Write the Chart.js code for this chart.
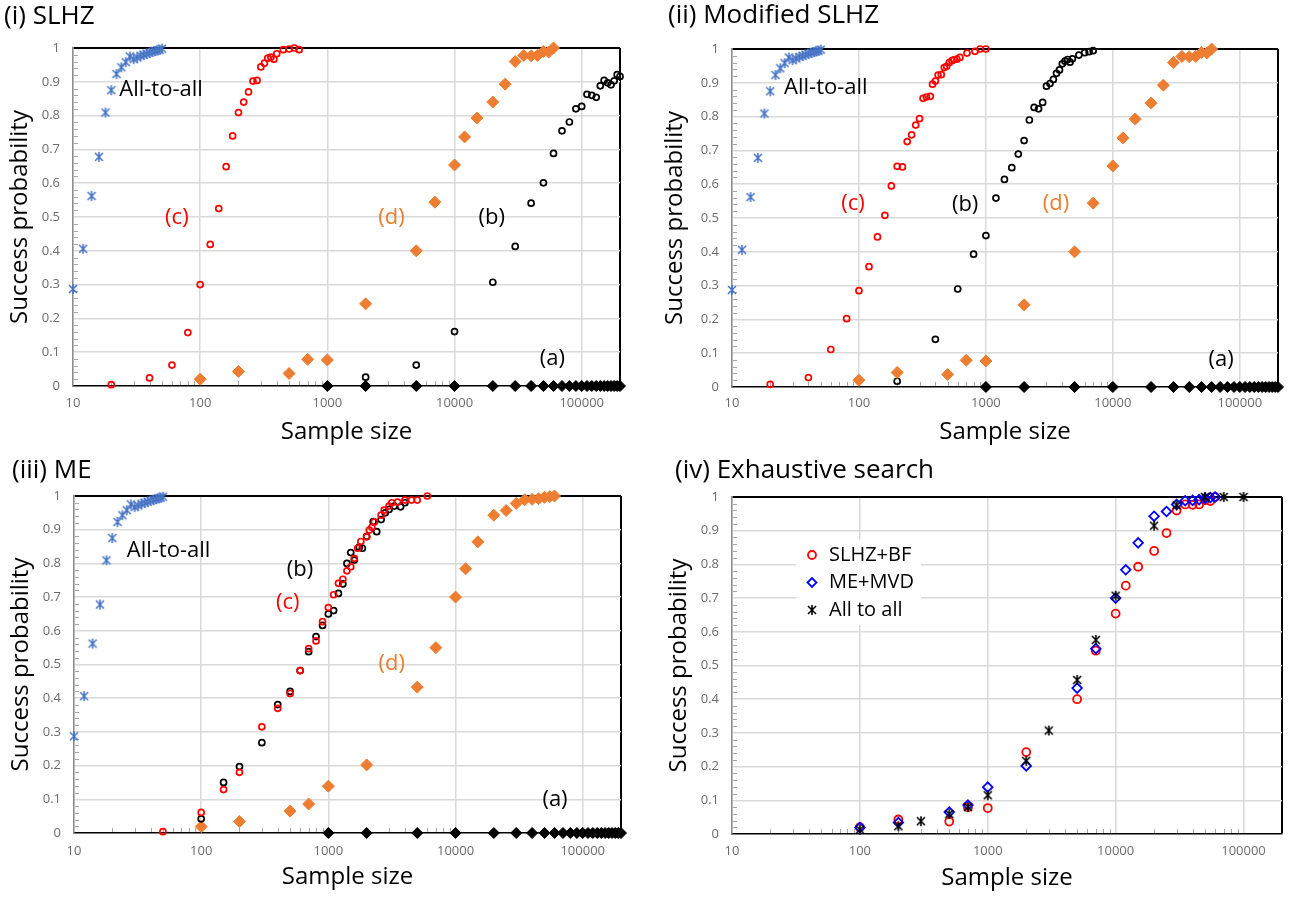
<!DOCTYPE html>
<html><head><meta charset="utf-8">
<script src="https://cdn.jsdelivr.net/npm/chart.js@4.4.1/dist/chart.umd.min.js"></script>
<style>
html,body{margin:0;padding:0;background:#fff;}
body{width:1296px;height:897px;position:relative;overflow:hidden;}
canvas{position:absolute;}
</style></head><body>
<canvas id="c1" width="648" height="448" style="left:0;top:0"></canvas>
<canvas id="c2" width="648" height="448" style="left:648px;top:0"></canvas>
<canvas id="c3" width="648" height="449" style="left:0;top:448px"></canvas>
<canvas id="c4" width="648" height="449" style="left:648px;top:448px"></canvas>
<script>
// ---------- tick labels ----------
const X_TICKS = [10, 100, 1000, 10000, 100000, 200000];
const Y_TICKS = [0, 0.1, 0.2, 0.3, 0.4, 0.5, 0.6, 0.7, 0.8, 0.9, 1];

// ---------- All-to-all (panels i-iii) ----------
const xAll = [10,12,14,16,18,20,22,24,26,28,30,32,34,36,38,40,42,44,46,48,50];
const yAll = [0.287,0.406,0.562,0.678,0.809,0.875,0.923,0.943,0.958,0.975,0.967,0.972,0.977,0.980,0.983,0.986,0.989,0.991,0.993,0.995,0.998];

// ---------- (a) ----------
const xA = [1000,2000,5000,10000,20000,30000,40000,50000,60000,70000,80000,90000,100000,110000,120000,130000,140000,150000,160000,170000,180000,190000,200000];
const yA = [0,0,0,0,0,0,0,0,0,0,0,0,0,0,0,0,0,0,0,0,0,0,0];

// ---------- (d) SLHZ+BF / ME+MVD ----------
const xD = [100,200,500,700,1000,2000,5000,7000,10000,12000,15000,20000,25000,30000,35000,40000,45000,50000,55000,60000];
const ySLHZBF = [0.020,0.043,0.037,0.079,0.077,0.243,0.400,0.544,0.654,0.737,0.793,0.840,0.893,0.960,0.978,0.977,0.978,0.990,0.988,1.0];
const yMEMVD = [0.019,0.034,0.065,0.086,0.139,0.202,0.433,0.550,0.700,0.784,0.864,0.943,0.957,0.978,0.989,0.990,0.992,0.996,0.998,1.0];

// ---------- panel (i) SLHZ ----------
const xC1 = [20,40,60,80,100,120,140,160,180,200,220,240,260,280,300,320,340,360,380,400,450,500,550,600];
const yC1 = [0.004,0.024,0.062,0.158,0.300,0.419,0.525,0.649,0.740,0.809,0.840,0.870,0.902,0.904,0.944,0.955,0.970,0.973,0.967,0.983,0.995,0.997,1.0,0.995];
const xB1 = [2000,5000,10000,20000,30000,40000,50000,60000,70000,80000,90000,100000,110000,120000,130000,140000,150000,160000,170000,180000,190000,200000];
const yB1 = [0.026,0.062,0.161,0.307,0.413,0.541,0.601,0.688,0.755,0.781,0.820,0.827,0.863,0.860,0.854,0.888,0.904,0.897,0.891,0.903,0.921,0.916];

// ---------- panel (ii) Modified SLHZ ----------
const xC2 = [20,40,60,80,100,120,140,160,180,200,220,240,260,280,300,320,340,365,380,400,420,445,470,490,515,540,560,590,625,710,820,900,1000];
const yC2 = [0.008,0.028,0.111,0.202,0.285,0.356,0.444,0.508,0.595,0.653,0.651,0.726,0.746,0.775,0.794,0.854,0.858,0.860,0.896,0.905,0.923,0.924,0.945,0.949,0.960,0.966,0.968,0.970,0.975,0.988,0.993,1.0,1.0];
const xB2 = [200,400,600,800,1000,1200,1400,1600,1800,2000,2200,2400,2600,2800,3000,3200,3400,3600,3800,4000,4200,4400,4600,4800,5400,6000,6500,7000];
const yB2 = [0.017,0.141,0.290,0.393,0.448,0.559,0.614,0.649,0.689,0.729,0.790,0.827,0.823,0.842,0.890,0.898,0.910,0.928,0.938,0.956,0.964,0.969,0.961,0.971,0.982,0.989,0.992,0.995];

// ---------- panel (iii) ME ----------
const xC3 = [50,100,150,200,300,400,500,600,700,800,900,1000,1100,1200,1300,1400,1500,1600,1700,1800,2000,2100,2200,2300,2600,2750,3000,3150,3500,4000,4500,5000,6000];
const yC3 = [0.004,0.061,0.129,0.180,0.315,0.370,0.414,0.482,0.547,0.570,0.627,0.669,0.707,0.741,0.753,0.778,0.790,0.815,0.845,0.865,0.879,0.899,0.907,0.923,0.943,0.958,0.970,0.980,0.982,0.988,0.988,0.988,1.0];
const xB3 = [100,150,200,300,400,500,600,700,800,900,1000,1100,1200,1300,1400,1500,1600,1750,1850,2000,2250,2400,2600,2800,3000,3300,3700,4000];
const yB3 = [0.042,0.150,0.197,0.268,0.381,0.420,0.482,0.538,0.583,0.616,0.650,0.660,0.711,0.739,0.800,0.832,0.810,0.848,0.845,0.880,0.924,0.894,0.930,0.950,0.960,0.970,0.968,0.980];

// ---------- panel (iv) Exhaustive search: All to all ----------
const xAA = [100,200,300,500,700,1000,2000,3000,5000,7000,10000,20000,30000,50000,70000,100000];
const yAA = [0.013,0.023,0.038,0.059,0.080,0.115,0.217,0.307,0.457,0.576,0.707,0.915,0.975,1.0,1.0,1.0];

// ================= rendering =================
const FONT = "'Open Sans', 'Noto Sans', 'DejaVu Sans', sans-serif";
const BLUE = '#4472C4', RED = '#FF0000', ORANGE = '#ED7D31', BLACK = '#000000';

function pts(xs, ys) { return xs.map((x, i) => ({x: x, y: ys[i]})); }

function asterisk(color, r, lw) {
  const s = Math.ceil(2 * r + 4);
  const c = document.createElement('canvas');
  c.width = s; c.height = s;
  const g = c.getContext('2d');
  const m = s / 2, d = r * 0.8;
  g.strokeStyle = color; g.lineWidth = lw;
  g.beginPath();
  g.moveTo(m, m - r); g.lineTo(m, m + r);
  g.moveTo(m - d, m - d); g.lineTo(m + d, m + d);
  g.moveTo(m + d, m - d); g.lineTo(m - d, m + d);
  g.stroke();
  return c;
}
const starBlue = asterisk(BLUE, 5, 1.5);
const starBlack = asterisk(BLACK, 5, 1.6);

function ds(label, data, style) {
  return Object.assign({label: label, data: data, clip: false, showLine: false}, style);
}
const S_ALL = {pointStyle: starBlue, pointRadius: 5};
const S_C = {pointStyle: 'circle', pointRadius: 3, pointBorderWidth: 1.7, pointBorderColor: RED, pointBackgroundColor: 'rgba(0,0,0,0)'};
const S_B = {pointStyle: 'circle', pointRadius: 3, pointBorderWidth: 1.7, pointBorderColor: BLACK, pointBackgroundColor: 'rgba(0,0,0,0)'};
const S_D = {pointStyle: 'rectRot', pointRadius: 6, pointBorderWidth: 1, pointBorderColor: ORANGE, pointBackgroundColor: ORANGE};
const S_A = {pointStyle: 'rectRot', pointRadius: 5.5, pointBorderWidth: 1, pointBorderColor: BLACK, pointBackgroundColor: BLACK};

function panelTitle(text, x, y) {
  return {id: 'panelTitle', afterDraw(chart) {
    const ctx = chart.ctx; ctx.save();
    ctx.font = '26px ' + FONT; ctx.fillStyle = '#000';
    ctx.textAlign = 'left'; ctx.textBaseline = 'middle';
    ctx.fillText(text, x, y); ctx.restore();
  }};
}
function notes(items) {
  return {id: 'notes', afterDatasetsDraw(chart) {
    const ctx = chart.ctx, xs = chart.scales.x, ys = chart.scales.y;
    ctx.save(); ctx.font = '22px ' + FONT; ctx.textAlign = 'left'; ctx.textBaseline = 'middle';
    items.forEach(it => { ctx.fillStyle = it.color; ctx.fillText(it.text, xs.getPixelForValue(it.x), ys.getPixelForValue(it.y)); });
    ctx.restore();
  }};
}
const minorTicks = {id: 'minorTicks', beforeDatasetsDraw(chart) {
  const ctx = chart.ctx, xs = chart.scales.x, ys = chart.scales.y, a = chart.chartArea;
  ctx.save(); ctx.strokeStyle = '#a6a6a6'; ctx.lineWidth = 1; ctx.beginPath();
  for (let d = 10; d < 200000; d *= 10) {
    for (let m = 2; m <= 9; m++) {
      const v = d * m; if (v >= 200000) break;
      const px = Math.round(xs.getPixelForValue(v)) + 0.5;
      ctx.moveTo(px, a.bottom - 1); ctx.lineTo(px, a.bottom - 5);
    }
  }
  for (let k = 1; k < 50; k++) {
    if (k % 5 === 0) continue;
    const py = Math.round(ys.getPixelForValue(k / 50)) + 0.5;
    ctx.moveTo(a.left + 1, py); ctx.lineTo(a.left + 5, py);
  }
  ctx.stroke(); ctx.restore();
}};
const legend4 = {id: 'legend4', afterDatasetsDraw(chart) {
  const ctx = chart.ctx, a = chart.chartArea;
  ctx.save();
  ctx.fillStyle = '#fff';
  ctx.fillRect(a.left + 64, a.top + 43, 125, 85);
  const mx = a.left + 80, tx = a.left + 97, rows = [a.top + 58, a.top + 85.5, a.top + 113];
  ctx.strokeStyle = RED; ctx.lineWidth = 1.8;
  ctx.beginPath(); ctx.arc(mx, rows[0], 4, 0, Math.PI * 2); ctx.stroke();
  ctx.strokeStyle = '#0000FF'; ctx.lineWidth = 1.8;
  ctx.beginPath(); ctx.moveTo(mx - 4.5, rows[1]); ctx.lineTo(mx, rows[1] - 4.5); ctx.lineTo(mx + 4.5, rows[1]); ctx.lineTo(mx, rows[1] + 4.5); ctx.closePath(); ctx.stroke();
  ctx.drawImage(starBlack, mx - starBlack.width / 2, rows[2] - starBlack.height / 2);
  ctx.font = '20px ' + FONT; ctx.fillStyle = '#000'; ctx.textAlign = 'left'; ctx.textBaseline = 'middle';
  const labels = chart.data.datasets.map(d => d.label);
  ctx.fillText(labels[2], tx, rows[0]);
  ctx.fillText(labels[1], tx, rows[1]);
  ctx.fillText(labels[0], tx, rows[2]);
  ctx.restore();
}};

function options(g) {
  return {
    responsive: false, animation: false, events: [],
    layout: {padding: {left: 0, top: g.padT, right: g.padR, bottom: 0}},
    plugins: {legend: {display: false}, tooltip: {enabled: false}, title: {display: false}},
    scales: {
      x: {
        type: 'logarithmic', min: 10, max: 200000, position: 'bottom', bounds: 'data',
        afterBuildTicks: s => { s.ticks = X_TICKS.map(v => ({value: v})); },
        afterFit: s => { s.height = g.xH; },
        ticks: {callback: v => (v >= 200000 ? '' : String(v)), font: {family: FONT, size: 13}, color: '#6b6b6b', padding: g.xTP, maxRotation: 0, autoSkip: false},
        grid: {drawTicks: false,
          color: c => (c.tick && c.tick.value >= 200000 ? '#000' : '#d9d9d9'),
          lineWidth: c => (c.tick && c.tick.value >= 200000 ? 2 : 1.5)},
        border: {color: '#000', width: 1.5},
        title: {display: true, text: 'Sample size', color: '#000', font: {family: FONT, size: 24}, padding: {top: 0, bottom: g.xTitleB}}
      },
      y: {
        type: 'linear', min: 0, max: 1,
        afterBuildTicks: s => { s.ticks = Y_TICKS.map(v => ({value: v})); },
        afterFit: s => { s.width = g.yW; },
        ticks: {callback: v => String(Math.round(v * 10) / 10), font: {family: FONT, size: 13}, color: '#6b6b6b', padding: 13},
        grid: {drawTicks: false,
          color: c => (c.tick && c.tick.value >= 1 ? '#000' : (c.tick && c.tick.value <= 0 ? 'rgba(0,0,0,0)' : '#d9d9d9')),
          lineWidth: c => (c.tick && c.tick.value >= 1 ? 2 : 1.5)},
        border: {color: '#8c8c8c', width: 1.5},
        title: {display: true, text: 'Success probability', color: '#000', font: {family: FONT, size: 24}, padding: {top: g.yTitleT, bottom: 0}}
      }
    }
  };
}

// panel (i)
new Chart(document.getElementById('c1'), {
  type: 'scatter',
  data: {datasets: [
    ds('All-to-all', pts(xAll, yAll), S_ALL),
    ds('(c)', pts(xC1, yC1), S_C),
    ds('(d)', pts(xD, ySLHZBF), S_D),
    ds('(b)', pts(xB1, yB1), S_B),
    ds('(a)', pts(xA, yA), S_A)
  ]},
  options: options({padT: 48, padR: 28, yW: 73, xH: 62, xTP: 9, xTitleB: 1.6, yTitleT: 5.6}),
  plugins: [minorTicks, panelTitle('(i) SLHZ', 4, 17), notes([
    {text: 'All-to-all', x: 23.1, y: 0.877, color: BLACK},
    {text: '(c)', x: 53, y: 0.497, color: RED},
    {text: '(d)', x: 2510, y: 0.497, color: ORANGE},
    {text: '(b)', x: 15450, y: 0.497, color: BLACK},
    {text: '(a)', x: 46800, y: 0.08, color: BLACK}
  ])]
});

// panel (ii)
new Chart(document.getElementById('c2'), {
  type: 'scatter',
  data: {datasets: [
    ds('All-to-all', pts(xAll, yAll), S_ALL),
    ds('(c)', pts(xC2, yC2), S_C),
    ds('(d)', pts(xD, ySLHZBF), S_D),
    ds('(b)', pts(xB2, yB2), S_B),
    ds('(a)', pts(xA, yA), S_A)
  ]},
  options: options({padT: 49, padR: 18, yW: 84, xH: 61, xTP: 8, xTitleB: 1.6, yTitleT: 12.6}),
  plugins: [minorTicks, panelTitle('(ii) Modified SLHZ', 20, 16), notes([
    {text: 'All-to-all', x: 25.7, y: 0.885, color: BLACK},
    {text: '(c)', x: 72.5, y: 0.542, color: RED},
    {text: '(b)', x: 540, y: 0.539, color: BLACK},
    {text: '(d)', x: 2810, y: 0.542, color: ORANGE},
    {text: '(a)', x: 56800, y: 0.082, color: BLACK}
  ])]
});

// panel (iii)
new Chart(document.getElementById('c3'), {
  type: 'scatter',
  data: {datasets: [
    ds('All-to-all', pts(xAll, yAll), S_ALL),
    ds('(c)', pts(xC3, yC3), S_C),
    ds('(b)', pts(xB3, yB3), S_B),
    ds('(d)', pts(xD, yMEMVD), S_D),
    ds('(a)', pts(xA, yA), S_A)
  ]},
  options: options({padT: 48, padR: 27, yW: 74, xH: 64, xTP: 10, xTitleB: 5.6, yTitleT: 7}),
  plugins: [minorTicks, panelTitle('(iii) ME', 12, 23), notes([
    {text: 'All-to-all', x: 26, y: 0.837, color: BLACK},
    {text: '(b)', x: 471, y: 0.782, color: BLACK},
    {text: '(c)', x: 388, y: 0.682, color: RED},
    {text: '(d)', x: 2477, y: 0.501, color: ORANGE},
    {text: '(a)', x: 48200, y: 0.1, color: BLACK}
  ])]
});

// panel (iv)
new Chart(document.getElementById('c4'), {
  type: 'scatter',
  data: {datasets: [
    ds('All to all', pts(xAA, yAA), {pointStyle: starBlack, pointRadius: 5}),
    ds('ME+MVD', pts(xD, yMEMVD), {pointStyle: 'rectRot', pointRadius: 4.8, pointBorderWidth: 1.8, pointBorderColor: '#0000FF', pointBackgroundColor: 'rgba(0,0,0,0)'}),
    ds('SLHZ+BF', pts(xD, ySLHZBF), {pointStyle: 'circle', pointRadius: 4, pointBorderWidth: 1.8, pointBorderColor: RED, pointBackgroundColor: 'rgba(0,0,0,0)'})
  ]},
  options: options({padT: 49, padR: 14, yW: 84, xH: 63, xTP: 9, xTitleB: 4.6, yTitleT: 16.6}),
  plugins: [minorTicks, panelTitle('(iv) Exhaustive search', 27, 23), legend4]
});
</script>
</body></html>
